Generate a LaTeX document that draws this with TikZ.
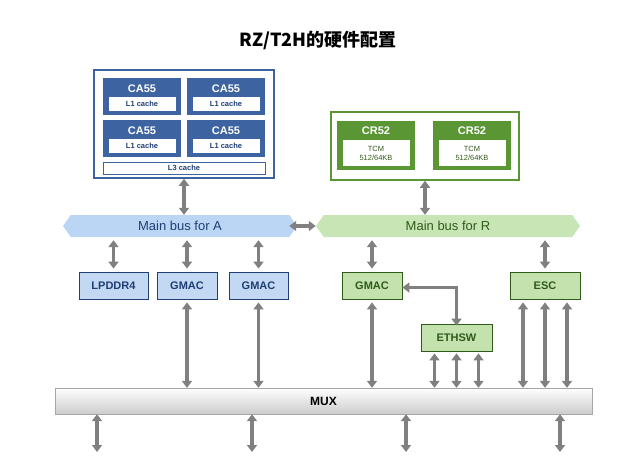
\documentclass[tikz,border=0pt]{standalone}
\usepackage{fontspec}
\setmainfont{Liberation Sans}
\newfontfamily\cjk{Noto Sans CJK SC}
\usetikzlibrary{arrows.meta,positioning,shapes.symbols}
\definecolor{aDark}{HTML}{3D64A0}
\definecolor{aLight}{HTML}{C3D9F3}
\definecolor{aBus}{HTML}{BBD6F4}
\definecolor{aText}{HTML}{1F3F73}
\definecolor{rDark}{HTML}{5A9634}
\definecolor{rLight}{HTML}{C3E2AE}
\definecolor{rBus}{HTML}{C8E6B5}
\definecolor{rText}{HTML}{2F5A1A}
\definecolor{link}{HTML}{808080}
\tikzset{
  core/.style={draw=none,minimum width=78pt,minimum height=37pt,text=white,font=\bfseries\fontsize{11}{11}\selectfont},
  cache/.style={fill=white,minimum width=67pt,minimum height=14pt,inner sep=0pt,font=\bfseries\fontsize{7.5}{8}\selectfont},
  ablock/.style={draw=aText,thick,fill=aLight,minimum height=27pt,inner sep=0pt,text=aText,font=\bfseries\fontsize{11}{11}\selectfont},
  rblock/.style={draw=rText,thick,fill=rLight,minimum height=27pt,inner sep=0pt,text=rText,font=\bfseries\fontsize{11}{11}\selectfont},
  bus/.style={signal,signal to=east and west,signal pointer angle=110,minimum height=22pt,inner sep=0pt,font=\fontsize{13}{13}\selectfont},
  link/.style={draw=link,line width=3.5pt,{Triangle[width=10pt,length=7pt]}-{Triangle[width=10pt,length=7pt]}},
  onelink/.style={draw=link,line width=3.5pt,-{Triangle[width=10pt,length=7pt]}}
}
\begin{document}
\begin{tikzpicture}[x=1pt,y=-1pt]
\useasboundingbox (0,0) rectangle (635,472);
\node[font=\cjk\bfseries\fontsize{18}{18}\selectfont] (title) at (318,40) {RZ/T2H的硬件配置};
% A cluster
\node[draw=aDark,line width=1.5pt,fill=white,minimum width=180pt,minimum height=108pt] (acl) at (184,124) {};
\foreach \n/\x/\y in {c1/142/96.5,c2/226/96.5,c3/142/138.5,c4/226/138.5}{
  \node[core,fill=aDark,text depth=16pt] (\n) at (\x,\y) {CA55};
  \node[cache,text=aText] (\n l) at (\x,\y+7.5) {L1 cache};
}
\node[draw=aDark,fill=white,minimum width=162pt,minimum height=12pt,inner sep=0pt,text=aText,font=\bfseries\fontsize{7.5}{8}\selectfont] (l3) at (184,168) {L3 cache};
% R cluster
\node[draw=rDark,line width=1.5pt,fill=white,minimum width=188pt,minimum height=68pt] (rcl) at (425,146) {};
\foreach \n/\x in {r1/376,r2/472}{
  \node[core,fill=rDark,minimum height=49pt,text depth=30pt] (\n) at (\x,145.5) {CR52};
  \node[cache,minimum height=26pt,text=rText,font=\fontsize{7.5}{9}\selectfont,align=center] (\n t) at (\x,153) {TCM\\512/64KB};
}
% buses
\node[bus,fill=aBus,text=aText,minimum width=234pt] (busa) at (180,226) {Main bus for A};
\node[bus,fill=rBus,text=rText,minimum width=264pt] (busr) at (448,226) {Main bus for R};
\draw[link] (busa.east) ++(-8,0) coordinate (ba) (ba) -- (busr.west);
\draw[link] (acl.south) -- (acl.south |- busa.north);
\draw[link] (rcl.south) -- (rcl.south |- busr.north);
% peripherals
\node[ablock,minimum width=69pt] (lpddr) at (113.5,285.5) {LPDDR4};
\node[ablock,minimum width=60pt] (gmaca1) at (187,285.5) {GMAC};
\node[ablock,minimum width=59pt] (gmaca2) at (258.5,285.5) {GMAC};
\node[rblock,minimum width=60pt] (gmacr) at (372,285.5) {GMAC};
\node[rblock,minimum width=70pt] (esc) at (545,285.5) {ESC};
\node[rblock,minimum width=71pt] (ethsw) at (456.5,337.5) {ETHSW};
\foreach \n in {lpddr,gmaca1,gmaca2,gmacr,esc}
  \draw[link] ([yshift=-3pt]\n.north |- busa.south) -- ([yshift=3pt]\n.north);
% MUX
\node[draw=black!35,top color=white,bottom color=black!20,minimum width=537pt,minimum height=26pt,font=\bfseries\fontsize{12}{12}\selectfont] (mux) at (323.5,401) {MUX};
\draw[link] ([yshift=-2pt]gmacr.east) -| ([yshift=-2pt]ethsw.north);
\foreach \n in {gmaca1,gmaca2,gmacr}
  \draw[link] ([yshift=-3pt]\n.south) -- (\n.south |- mux.north);
\foreach \d in {-22,0,22}{
  \draw[link] ([xshift=\d pt,yshift=-2pt]ethsw.south) -- ([xshift=\d pt]ethsw.south |- mux.north);
  \draw[link] ([xshift=\d pt,yshift=-3pt]esc.south) -- ([xshift=\d pt]esc.south |- mux.north);
}
\foreach \x in {97,252,406,560}{
  \coordinate (pin\x) at (\x,452);
  \draw[link] (mux.south -| pin\x) -- (pin\x);
}
\end{tikzpicture}
\end{document}
